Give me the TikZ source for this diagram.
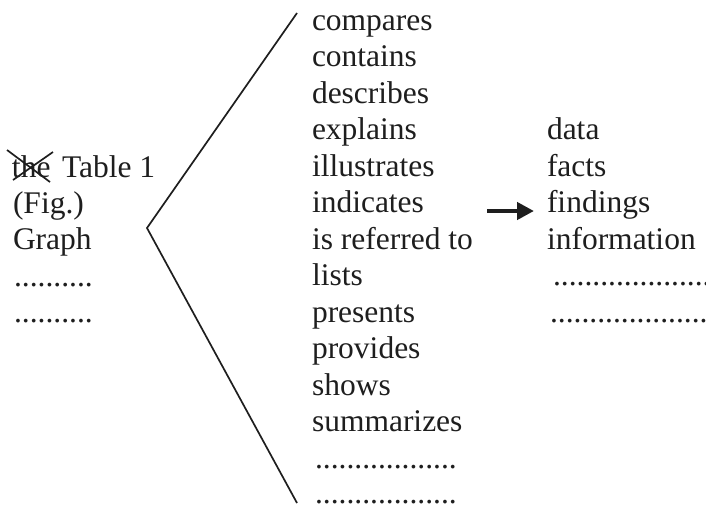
\documentclass[tikz,border=0pt]{standalone}
\usepackage{fontspec}
\setmainfont{Liberation Serif}
\usetikzlibrary{arrows.meta}
\definecolor{ink}{HTML}{1E1E1E}
\begin{document}
\begin{tikzpicture}[x=1pt,y=-1pt,
  word/.style={anchor=base west,inner sep=0pt,outer sep=0pt,text=ink,font=\fontsize{31.5}{36.5}\selectfont},
  bracket/.style={draw=ink,line width=1.7pt,line join=miter},
  pointer/.style={draw=ink,line width=4.8pt,-{Triangle[length=17pt,width=17pt]}},
  strike/.style={draw=ink,line width=1.7pt}]
\useasboundingbox (0,0) rectangle (706,506);
% left column
\node[word] (the) at (12,177) {the};
\node[word] (tab) at (62,177) {Table 1};
\node[word] (fig) at (13,213) {(Fig.)};
\node[word] (gra) at (13,249.5) {Graph};
\node[word] (ld1) at (14,286) {..........};
\node[word] (ld2) at (14,322.5) {..........};
\draw[strike] ([shift={(-5,-27)}]the.base west) -- ([shift={(38,5)}]the.base west);
\draw[strike] ([shift={(1,3)}]the.base west) -- ([shift={(41,-25)}]the.base west);
% angle
\coordinate (top) at (297,13);
\coordinate (vtx) at (147,228);
\coordinate (bot) at (297,503);
\draw[bracket] (top) -- (vtx) -- (bot);
% middle column
\foreach \w [count=\i from 0] in {compares,contains,describes,explains,illustrates,indicates,is referred to,lists,presents,provides,shows,summarizes}{
  \node[word] (m\i) at (312,30+36.5*\i) {\w};
}
\node[word] (md1) at (315,468) {..................};
\node[word] (md2) at (315,503.5) {..................};
% right column
\node[word] (dat) at (547,139.5) {data};
\node[word] (fac) at (547,176) {facts};
\node[word] (fin) at (547,212.5) {findings};
\node[word] (inf) at (547,249) {information};
\node[word] (rd1) at (553,285.5) {....................};
\node[word] (rd2) at (550,322) {....................};
% arrow
\coordinate (as) at (487,211);
\coordinate (ae) at (534,211);
\draw[pointer] (as) -- (ae);
\end{tikzpicture}
\end{document}
